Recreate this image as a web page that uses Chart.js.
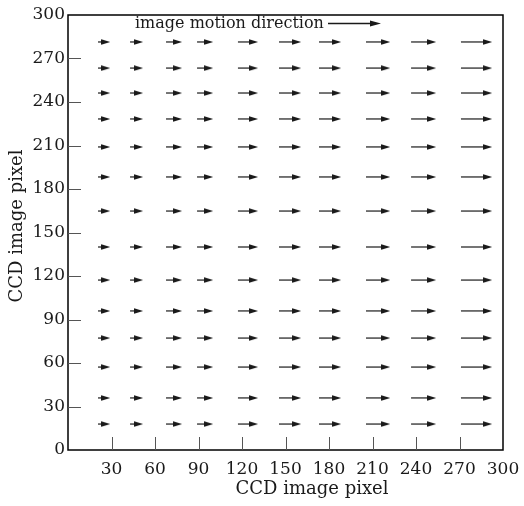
<!DOCTYPE html>
<html>
<head>
<meta charset="utf-8">
<script src="https://cdn.jsdelivr.net/npm/chart.js@4/dist/chart.umd.min.js"></script>
<style>
  body { margin: 0; background: #fff; }
</style>
</head>
<body>
<canvas id="quiver" width="524" height="506"></canvas>
<script>
// arrow tails along x (CCD pixel), one per column
const xTails = [20.7, 42.8, 67.6, 89.0, 117.2, 145.5, 173.1, 205.5, 236.6, 271.0];
// arrow length (image motion) per column, CCD pixel
const motion = [8.3, 8.9, 11.0, 11.0, 13.8, 15.2, 15.2, 16.6, 17.2, 21.4];
// arrow rows along y (CCD pixel)
const yRows = [281.4, 263.4, 246.2, 228.3, 209.0, 188.3, 164.8, 140.0, 117.2, 95.9, 77.2, 57.2, 35.9, 17.9];
// axis ticks
const tickValues = [0, 30, 60, 90, 120, 150, 180, 210, 240, 270, 300];

const ink = "#1a1a1a";
Chart.defaults.font.family = "DejaVu Serif";
Chart.defaults.color = ink;

// small slender arrow head used as point style
const head = document.createElement("canvas");
head.width = 9;
head.height = 6;
const hctx = head.getContext("2d");
hctx.fillStyle = ink;
hctx.beginPath();
hctx.moveTo(0, 0.3);
hctx.lineTo(9, 3);
hctx.lineTo(0, 5.7);
hctx.closePath();
hctx.fill();

// one dataset per arrow: tail -> tip, head drawn on the tip
const datasets = [];
for (const y of yRows) {
  xTails.forEach((x, i) => {
    datasets.push({
      data: [
        { x: x, y: y },
        { x: x + motion[i] - 3, y: y },
      ],
      showLine: true,
      borderColor: ink,
      borderWidth: 1.2,
      pointRadius: (ctx) => (ctx.dataIndex === 1 ? 4 : 0),
      pointStyle: head,
    });
  });
}

// box, inward ticks and text annotations
const frame = {
  id: "frame",
  afterDraw(chart) {
    const { ctx, chartArea: a, scales } = chart;
    ctx.save();
    ctx.strokeStyle = "#000";
    ctx.lineWidth = 1.5;
    ctx.strokeRect(a.left, a.top, a.right - a.left, a.bottom - a.top);

    ctx.strokeStyle = "#555";
    ctx.lineWidth = 1;
    ctx.beginPath();
    for (const v of tickValues.slice(1, -1)) {
      const px = Math.round(scales.x.getPixelForValue(v)) + 0.5;
      ctx.moveTo(px, a.bottom);
      ctx.lineTo(px, a.bottom - 13);
      const py = Math.round(scales.y.getPixelForValue(v)) + 0.5;
      ctx.moveTo(a.left, py);
      ctx.lineTo(a.left + 13, py);
    }
    ctx.stroke();

    // motion direction note
    ctx.fillStyle = ink;
    ctx.font = "16px 'DejaVu Serif'";
    ctx.textAlign = "left";
    ctx.textBaseline = "alphabetic";
    ctx.fillText("image motion direction", 135, 28);
    ctx.strokeStyle = ink;
    ctx.lineWidth = 1.3;
    ctx.beginPath();
    ctx.moveTo(328, 23.5);
    ctx.lineTo(372, 23.5);
    ctx.stroke();
    ctx.beginPath();
    ctx.moveTo(370, 20.5);
    ctx.lineTo(381, 23.5);
    ctx.lineTo(370, 26.5);
    ctx.closePath();
    ctx.fill();

    // axis titles
    ctx.font = "18px 'DejaVu Serif'";
    ctx.textAlign = "center";
    ctx.fillText("CCD image pixel", 312, 494);
    ctx.translate(22, 226);
    ctx.rotate(-Math.PI / 2);
    ctx.fillText("CCD image pixel", 0, 0);
    ctx.restore();
  },
};

new Chart(document.getElementById("quiver"), {
  type: "scatter",
  data: { datasets: datasets },
  options: {
    responsive: false,
    animation: false,
    events: [],
    layout: { padding: { top: 15, right: 21, left: 0, bottom: 0 } },
    plugins: { legend: { display: false }, tooltip: { enabled: false } },
    scales: {
      x: {
        type: "linear",
        min: 0,
        max: 300,
        afterFit: (scale) => {
          scale.height = 56;
          scale.paddingLeft = 0;
          scale.paddingRight = 0;
        },
        afterBuildTicks: (scale) => {
          scale.ticks = tickValues.map((v) => ({ value: v }));
        },
        grid: { display: false, drawTicks: false },
        border: { display: false },
        ticks: {
          padding: 9,
          maxRotation: 0,
          autoSkip: false,
          font: { size: 17 },
          color: ink,
          callback: (v) => (v === 0 ? "" : v),
        },
      },
      y: {
        type: "linear",
        min: 0,
        max: 300,
        afterFit: (scale) => {
          scale.width = 68;
          scale.paddingTop = 0;
          scale.paddingBottom = 0;
        },
        afterBuildTicks: (scale) => {
          scale.ticks = tickValues.map((v) => ({ value: v }));
        },
        grid: { display: false, drawTicks: false },
        border: { display: false },
        ticks: {
          padding: 3,
          autoSkip: false,
          font: { size: 17 },
          color: ink,
        },
      },
    },
  },
  plugins: [frame],
});
</script>
</body>
</html>
